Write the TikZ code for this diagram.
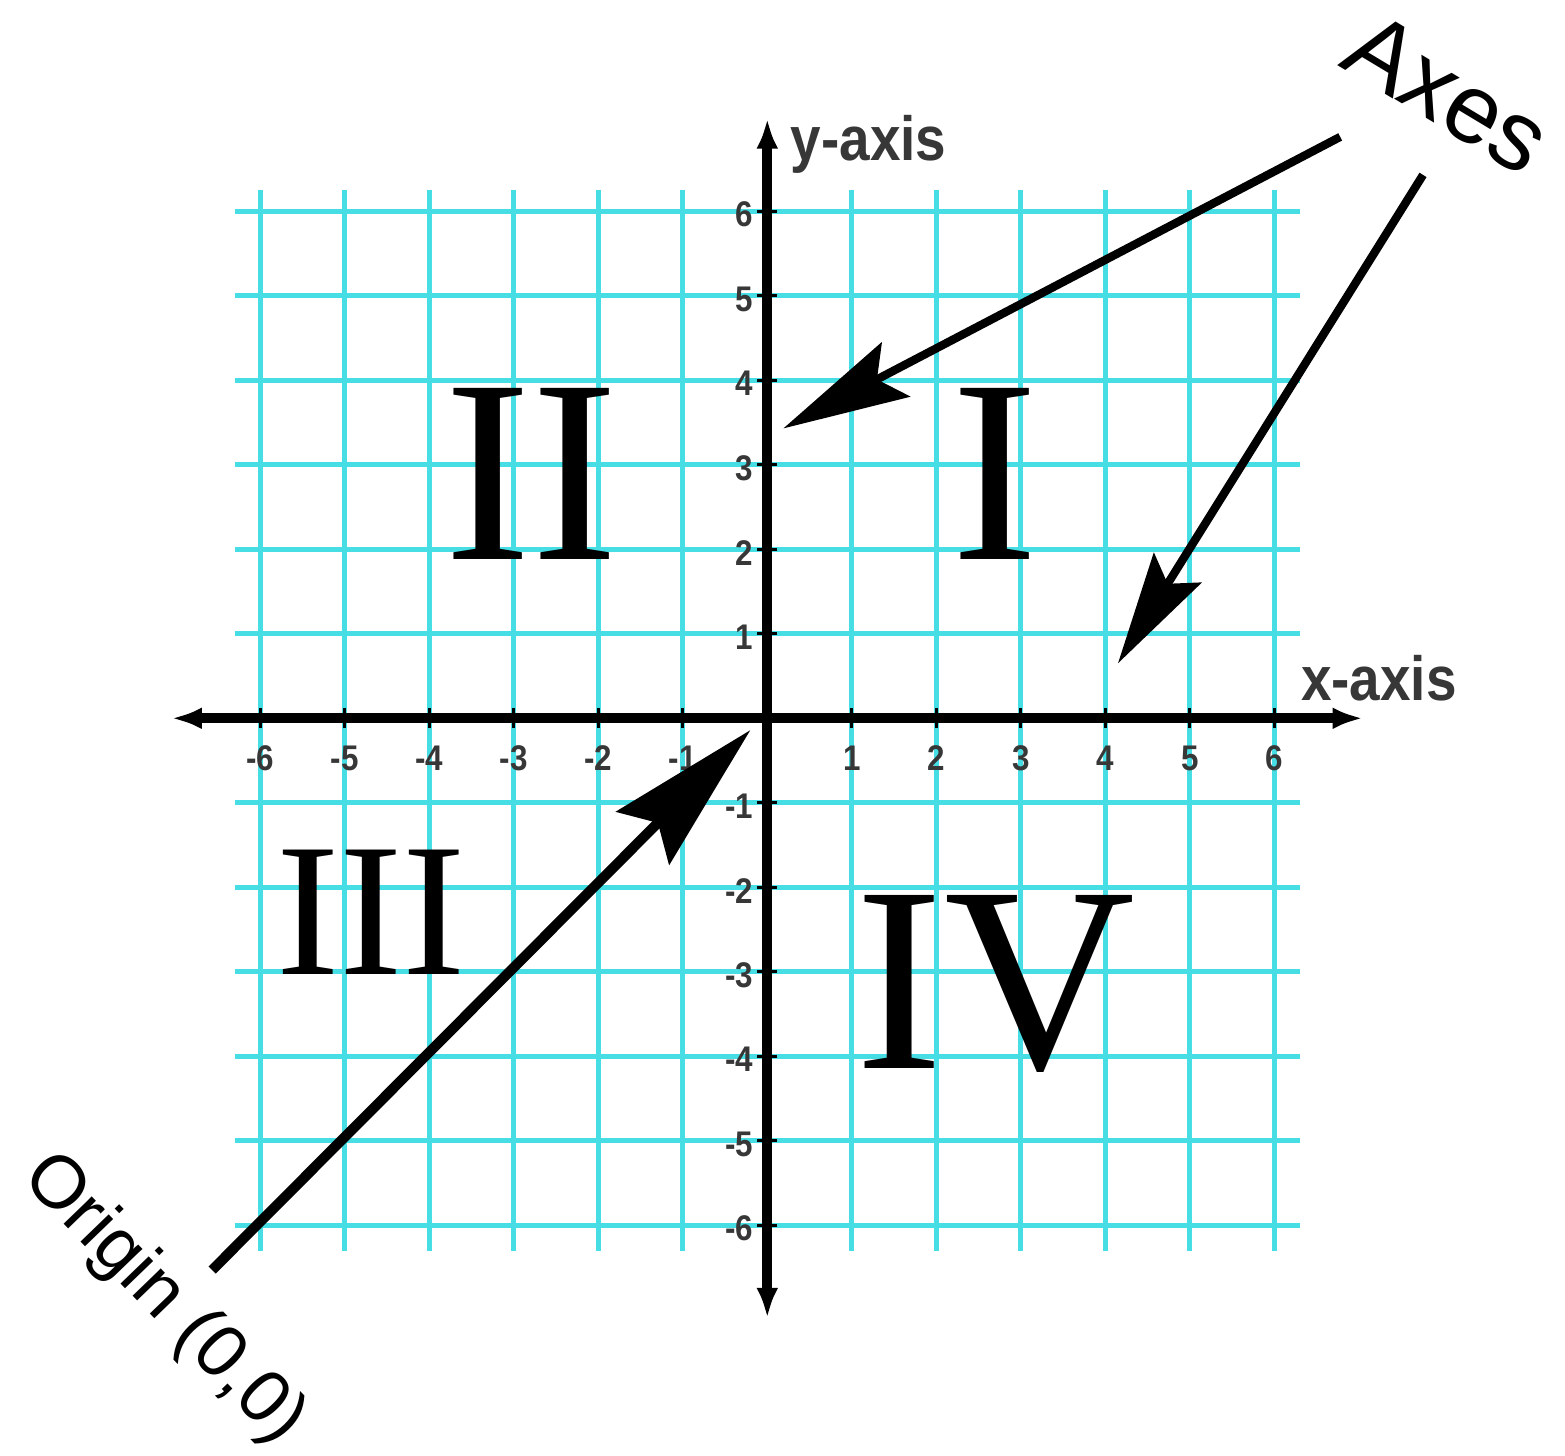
\documentclass[tikz,border=0pt]{standalone}
\usepackage{fontspec}
\setmainfont{Liberation Serif}
\newfontfamily\labelfont{Liberation Sans}
\newfontfamily\axisfont[FakeStretch=0.88]{Liberation Sans}
\usetikzlibrary{arrows.meta}

\definecolor{gridcyan}{RGB}{70,222,228}
\definecolor{ticktext}{RGB}{55,55,55}

\begin{document}
\begin{tikzpicture}[
    gridline/.style={gridcyan, line width=1.6pt},
    axisline/.style={line width=3.4pt, {Latex[length=0.36cm,width=0.26cm]}-{Latex[length=0.36cm,width=0.26cm]}},
    pointer/.style={line width=2.8pt, -{Stealth[length=1.5cm,width=0.72cm,inset=0.25cm]}},
    numeral/.style={inner sep=0, font=\fontsize{88}{88}\selectfont},
    ticklabel/.style={inner sep=0, text=ticktext, font=\axisfont\bfseries\fontsize{12}{14}\selectfont},
    axislabel/.style={inner sep=0, text=ticktext, font=\axisfont\bfseries\fontsize{21}{24}\selectfont},
    callout/.style={inner sep=0}
]
\useasboundingbox (-9.08,-8.73) rectangle (9.44,8.50);

% Grid
\foreach \k in {-6,...,6}
{
  \draw[gridline] (\k,-6.3) -- (\k,6.25);
  \draw[gridline] (-6.3,\k) -- (6.3,\k);
}

% Axes
\draw[axisline] (-7.05,0) -- (7.05,0);
\draw[axisline] (0,-7.1) -- (0,7.1);

% Ticks and numbers
\foreach \k in {-6,...,-1,1,2,...,6}
{
  \draw[line width=1pt] (\k,-0.12) -- (\k,0.12);
  \draw[line width=1pt] (-0.12,\k) -- (0.12,\k);
  \node[ticklabel] (xnum\k) at (\k,-0.47) {\k};
  \node[ticklabel, anchor=east] (ynum\k) at (-0.16,\k-0.04) {\k};
}

\node[axislabel, anchor=base west] (xlab) at (6.31,0.21) {x-axis};
\node[axislabel, anchor=base west] (ylab) at (0.27,6.60) {y-axis};

% Quadrants
\node[numeral] (q1) at (2.69,2.89) {I};
\node[numeral] (q2) at (-2.79,2.89) {II};
\node[numeral, font=\fontsize{64}{64}\selectfont] (q3) at (-4.69,-2.30) {III};
\node[numeral, font=\fontsize{89}{89}\selectfont] (q4) at (2.70,-3.14) {IV};

% Labels with pointers
\node[callout, font=\labelfont\fontsize{33}{38}\selectfont, rotate=-31] (axes) at (8.05,7.40) {Axes};
\node[callout, font=\labelfont\fontsize{25}{30}\selectfont, rotate=-46] (origin) at (-7.15,-6.88) {Origin (0,0)};

\coordinate (axes-a) at (6.78,6.88);
\coordinate (yhit) at (0.19,3.43);
\coordinate (axes-b) at (7.76,6.43);
\coordinate (xhit) at (4.15,0.65);
\coordinate (origin-a) at (-6.57,-6.53);
\coordinate (ohit) at (-0.20,-0.14);

\draw[pointer] (axes-a) -- (yhit);
\draw[pointer, -{Stealth[length=1.33cm,width=0.66cm,inset=0.22cm]}] (axes-b) -- (xhit);
\draw[pointer, line width=3.4pt, -{Stealth[length=1.8cm,width=0.88cm,inset=0.25cm]}] (origin-a) -- (ohit);

\end{tikzpicture}
\end{document}
